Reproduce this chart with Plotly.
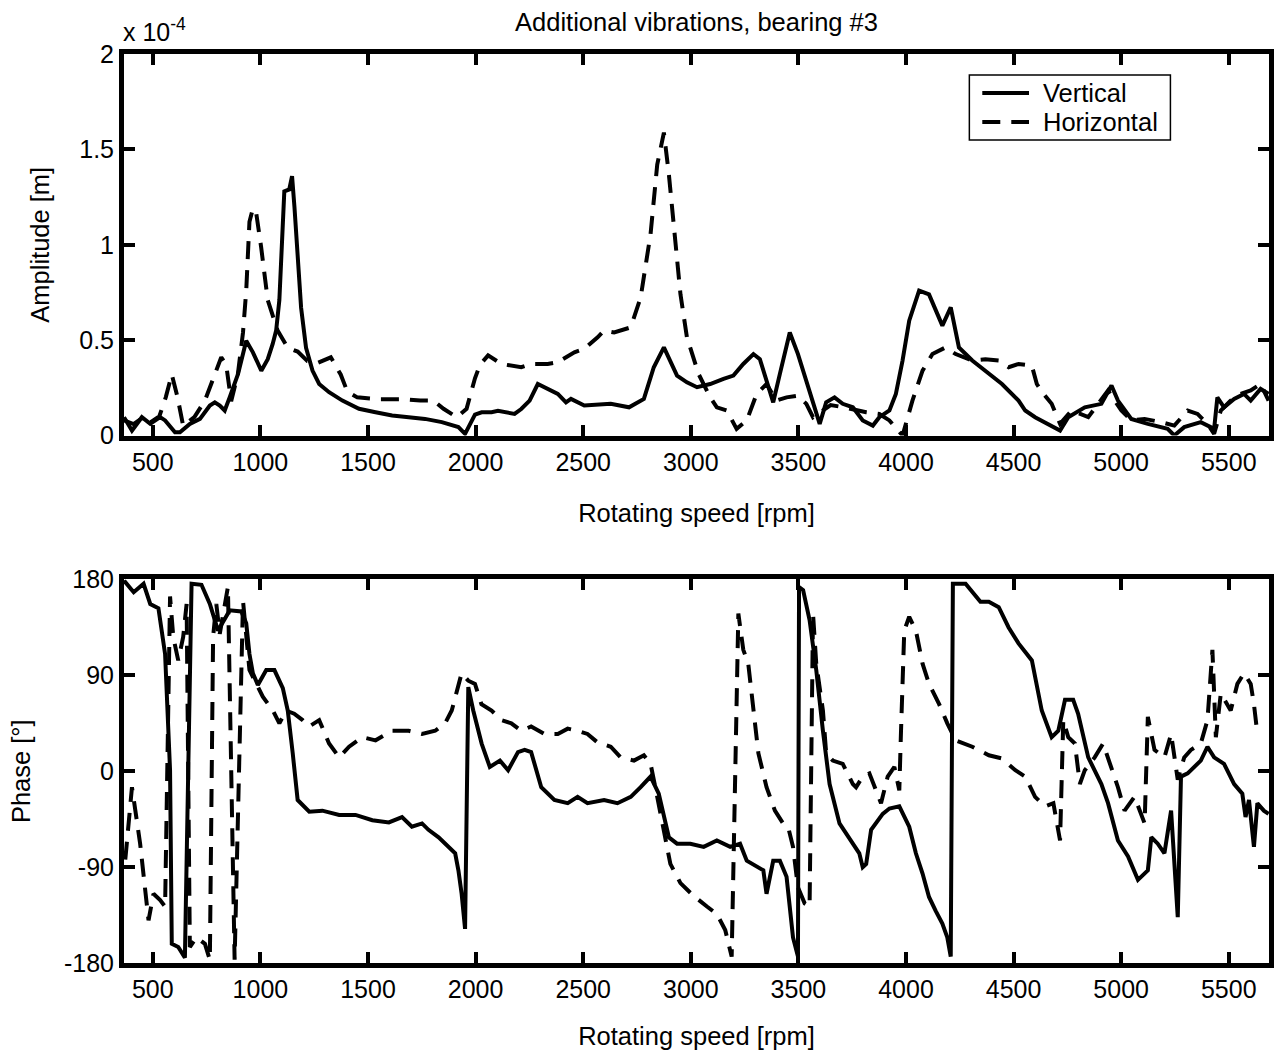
import plotly.graph_objects as go

# ---------------- data ----------------
# Top panel: amplitude, in units of 1e-4 m
rpm_amp_vertical = [366, 403, 449, 488, 534, 557, 603, 626, 672, 719, 765, 788, 811, 834, 857, 896,
                    934, 965, 1004, 1034, 1057, 1073, 1088, 1104, 1111, 1134, 1147, 1158, 1173, 1189,
                    1212, 1242, 1273, 1319, 1381, 1458, 1535, 1612, 1689, 1765, 1843, 1920, 1951, 1974,
                    1997, 2028, 2074, 2104, 2151, 2181, 2212, 2251, 2289, 2320, 2382, 2420, 2443, 2505,
                    2628, 2713, 2782, 2828, 2875, 2936, 2982, 3029, 3090, 3152, 3198, 3244, 3291, 3321,
                    3352, 3383, 3414, 3460, 3498, 3537, 3568, 3599, 3629, 3668, 3706, 3753, 3799, 3846,
                    3876, 3923, 3953, 3984, 4015, 4061, 4107, 4169, 4208, 4246, 4308, 4385, 4446, 4523,
                    4554, 4600, 4662, 4716, 4754, 4831, 4908, 4955, 4985, 5047, 5124, 5216, 5247, 5293,
                    5370, 5432, 5447, 5478, 5525, 5571, 5602, 5648, 5685]
amp_vertical = [0.096, 0.026, 0.096, 0.061, 0.096, 0.079, 0.017, 0.017, 0.061, 0.087, 0.157, 0.174,
                0.157, 0.131, 0.20, 0.323, 0.497, 0.436, 0.34, 0.40, 0.48, 0.55, 0.71, 1.09, 1.28,
                1.29, 1.36, 1.20, 0.93, 0.67, 0.46, 0.34, 0.27, 0.227, 0.183, 0.14, 0.122, 0.105,
                0.096, 0.087, 0.07, 0.044, 0.009, 0.06, 0.11, 0.122, 0.122, 0.13, 0.122, 0.113,
                0.139, 0.183, 0.27, 0.253, 0.218, 0.174, 0.192, 0.157, 0.166, 0.148, 0.192, 0.358,
                0.462, 0.314, 0.279, 0.253, 0.27, 0.297, 0.314, 0.375, 0.427, 0.40, 0.288, 0.174,
                0.323, 0.54, 0.427, 0.288, 0.183, 0.061, 0.174, 0.20, 0.166, 0.148, 0.079, 0.052,
                0.096, 0.131, 0.218, 0.393, 0.602, 0.76, 0.74, 0.576, 0.672, 0.462, 0.393, 0.323,
                0.27, 0.183, 0.131, 0.096, 0.061, 0.026, 0.096, 0.148, 0.166, 0.262, 0.183, 0.087,
                0.061, 0.035, 0.0, 0.044, 0.07, 0.035, 0.2, 0.148, 0.192, 0.218, 0.183, 0.244, 0.218]

rpm_amp_horizontal = [366, 410, 450, 490, 530, 560, 588, 615, 641, 693, 742, 818, 841, 864, 895, 919,
                      934, 949, 965, 980, 1003, 1034, 1080, 1127, 1173, 1219, 1265, 1327, 1373, 1404,
                      1450, 1558, 1666, 1743, 1804, 1851, 1912, 1958, 1997, 2020, 2058, 2120, 2212,
                      2258, 2335, 2382, 2459, 2505, 2567, 2597, 2644, 2721, 2767, 2813, 2844, 2875,
                      2898, 2929, 2952, 2982, 3036, 3090, 3121, 3167, 3213, 3260, 3306, 3352, 3398,
                      3445, 3498, 3537, 3568, 3599, 3650, 3700, 3768, 3815, 3876, 3923, 3984, 4030,
                      4077, 4123, 4184, 4231, 4308, 4369, 4431, 4477, 4523, 4585, 4608, 4639, 4677,
                      4716, 4770, 4847, 4939, 4970, 5001, 5047, 5109, 5186, 5247, 5309, 5355, 5401,
                      5432, 5463, 5509, 5555, 5602, 5648, 5685]
amp_horizontal = [0.08, 0.06, 0.09, 0.07, 0.10, 0.20, 0.32, 0.20, 0.05, 0.096, 0.183, 0.41, 0.37,
                  0.18, 0.32, 0.54, 0.76, 1.12, 1.19, 1.17, 0.99, 0.71, 0.55, 0.46, 0.44, 0.39, 0.38,
                  0.41, 0.32, 0.23, 0.20, 0.19, 0.19, 0.183, 0.183, 0.14, 0.096, 0.14, 0.30, 0.37,
                  0.42, 0.375, 0.358, 0.375, 0.375, 0.384, 0.436, 0.454, 0.515, 0.55, 0.54, 0.567,
                  0.724, 1.056, 1.42, 1.588, 1.37, 1.02, 0.74, 0.515, 0.323, 0.20, 0.148, 0.131,
                  0.035, 0.079, 0.218, 0.27, 0.183, 0.20, 0.209, 0.166, 0.096, 0.12, 0.16, 0.15,
                  0.131, 0.122, 0.113, 0.079, 0.0, 0.183, 0.34, 0.427, 0.462, 0.427, 0.393, 0.40,
                  0.393, 0.358, 0.375, 0.366, 0.27, 0.218, 0.166, 0.061, 0.131, 0.096, 0.236, 0.183,
                  0.131, 0.079, 0.087, 0.07, 0.052, 0.131, 0.113, 0.061, 0.009, 0.131, 0.183, 0.218,
                  0.236, 0.27, 0.183]

# Bottom panel: phase in degrees
rpm_ph_vertical = [366, 411, 457, 488, 526, 557, 580, 588, 618, 649, 680, 726, 765, 803, 857, 911,
                   934, 949, 965, 988, 1027, 1065, 1104, 1127, 1150, 1173, 1227, 1288, 1366, 1442,
                   1520, 1597, 1658, 1704, 1751, 1781, 1828, 1874, 1905, 1920, 1935, 1951, 1966,
                   1989, 2028, 2066, 2113, 2151, 2197, 2228, 2258, 2305, 2366, 2428, 2474, 2520,
                   2597, 2659, 2721, 2767, 2798, 2813, 2851, 2898, 2936, 2998, 3060, 3121, 3183,
                   3229, 3260, 3306, 3337, 3352, 3383, 3414, 3445, 3475, 3498, 3503, 3522, 3552,
                   3583, 3614, 3645, 3691, 3753, 3783, 3799, 3815, 3838, 3861, 3892, 3923, 3969,
                   4015, 4046, 4077, 4107, 4138, 4169, 4192, 4208, 4218, 4277, 4346, 4385, 4431,
                   4477, 4523, 4585, 4631, 4677, 4708, 4739, 4777, 4800, 4847, 4908, 4939, 4985,
                   5032, 5078, 5124, 5140, 5170, 5201, 5232, 5247, 5263, 5278, 5309, 5370, 5401,
                   5432, 5478, 5525, 5563, 5578, 5594, 5617, 5633, 5663, 5685]
phase_vertical = [179, 168, 176, 157, 153, 110, 1, -162, -165, -175, 176, 175, 157, 132, 151, 150,
                  139, 110, 92, 81, 95, 95, 78, 57, 17, -27, -38, -37, -41, -41, -46, -48, -43, -52,
                  -49, -55, -62, -71, -77, -93, -115, -148, 79, 57, 26, 4, 10, 1, 18, 20, 18, -15,
                  -27, -30, -24, -30, -27, -30, -24, -15, -8, -5, -21, -62, -68, -68, -71, -65, -71,
                  -68, -84, -90, -93, -115, -84, -84, -99, -156, -174, 173, 170, 142, 95, 38, -12,
                  -49, -68, -77, -90, -87, -55, -49, -40, -35, -33, -52, -77, -96, -118, -131, -143,
                  -156, -174, 176, 176, 159, 159, 154, 135, 120, 104, 57, 32, 38, 67, 67, 54, 13,
                  -12, -30, -65, -80, -102, -93, -62, -68, -77, -37, -93, -137, -5, -2, 10, 23, 13,
                  7, -12, -21, -43, -27, -71, -30, -37, -40]

rpm_ph_horizontal = [372, 403, 441, 480, 503, 534, 557, 580, 595, 618, 641, 657, 672, 703, 742, 765,
                     780, 795, 811, 849, 880, 919, 949, 980, 1011, 1058, 1088, 1119, 1157, 1196,
                     1227, 1273, 1319, 1366, 1412, 1473, 1535, 1612, 1689, 1751, 1812, 1858, 1889,
                     1935, 1966, 1997, 2027, 2074, 2120, 2166, 2212, 2258, 2320, 2382, 2428, 2474,
                     2520, 2567, 2628, 2674, 2736, 2782, 2813, 2844, 2875, 2905, 2952, 3013, 3075,
                     3121, 3160, 3190, 3221, 3244, 3267, 3290, 3314, 3352, 3391, 3429, 3452, 3475,
                     3498, 3529, 3552, 3568, 3583, 3614, 3629, 3660, 3706, 3753, 3768, 3799, 3830,
                     3884, 3915, 3946, 3969, 3976, 3992, 4015, 4046, 4077, 4107, 4154, 4192, 4231,
                     4308, 4385, 4446, 4508, 4554, 4600, 4646, 4685, 4716, 4731, 4754, 4785, 4808,
                     4831, 4877, 4916, 4947, 4985, 5016, 5062, 5109, 5124, 5155, 5201, 5232, 5263,
                     5293, 5324, 5370, 5401, 5424, 5440, 5463, 5509, 5540, 5571, 5602, 5617, 5633]
phase_horizontal = [-83, -15, -68, -140, -115, -121, -127, 164, 126, 104, 126, 157, -165, -156, -162,
                    -177, 126, 157, 129, 173, -177, 160, 95, 82, 70, 57, 45, 57, 54, 48, 42, 48, 26,
                    13, 23, 32, 29, 38, 38, 35, 38, 45, 57, 92, 85, 82, 63, 57, 48, 45, 38, 42, 35,
                    35, 40, 38, 35, 27, 23, 13, 10, 15, 7, -24, -55, -87, -105, -117, -127, -134,
                    -149, -174, 148, 114, 101, 63, 17, -15, -37, -49, -52, -71, -109, -124, -127, 148,
                    101, 57, 17, 10, 7, -12, -15, -5, -2, -30, -5, 4, -18, 32, 132, 145, 132, 101, 82,
                    63, 45, 29, 23, 15, 12, 1, -5, -24, -33, -30, -65, 48, 32, 26, -12, 1, 13, 26, 7,
                    -15, -37, -24, -49, 51, 20, 13, 35, -8, 13, 20, 26, 48, 114, 32, 73, 57, 82, 92,
                    82, 63, 35]

x_ticks = [500, 1000, 1500, 2000, 2500, 3000, 3500, 4000, 4500, 5000, 5500]
amp_ticks = [0, 0.5, 1, 1.5, 2]
amp_ticktext = ["0", "0.5", "1", "1.5", "2"]
phase_ticks = [-180, -90, 0, 90, 180]
phase_ticktext = ["-180", "-90", "0", "90", "180"]
legend_labels = ["Vertical", "Horizontal"]

# ---------------- figure ----------------
FONT = "Liberation Sans, Arial, Helvetica, sans-serif"
TICK_SIZE = 25
TEXT_SIZE = 25.5
solid = dict(color="black", width=4)
dashed = dict(color="black", width=4, dash="18px,11px")

fig = go.Figure()
fig.add_trace(go.Scatter(x=rpm_amp_vertical, y=amp_vertical, mode="lines", name=legend_labels[0],
                         line=solid, xaxis="x", yaxis="y", showlegend=False))
fig.add_trace(go.Scatter(x=rpm_amp_horizontal, y=amp_horizontal, mode="lines", name=legend_labels[1],
                         line=dashed, xaxis="x", yaxis="y", showlegend=False))
fig.add_trace(go.Scatter(x=rpm_ph_vertical, y=phase_vertical, mode="lines", name=legend_labels[0],
                         line=solid, xaxis="x2", yaxis="y2", showlegend=False))
fig.add_trace(go.Scatter(x=rpm_ph_horizontal, y=phase_horizontal, mode="lines", name=legend_labels[1],
                         line=dashed, xaxis="x2", yaxis="y2", showlegend=False))

axis_style = dict(showline=True, linecolor="black", linewidth=5, mirror="ticks",
                  ticks="inside", ticklen=11, tickwidth=4, tickcolor="black",
                  showgrid=False, zeroline=False,
                  tickfont=dict(family=FONT, size=TICK_SIZE, color="black"))
title_font = dict(family=FONT, size=TEXT_SIZE, color="black")

# legend drawn in the top panel (paper coordinates of the plot area)
LX0, LX1, LY0, LY1 = 0.7383, 0.9139, 0.9054, 0.9769
SX0, SX1, TX = 0.7496, 0.7904, 0.8010
ROW_Y = [0.9571, 0.9252]

shapes = [
    dict(type="rect", xref="paper", yref="paper", x0=LX0, x1=LX1, y0=LY0, y1=LY1,
         line=dict(color="black", width=1.5), fillcolor="white", layer="above"),
    dict(type="line", xref="paper", yref="paper", x0=SX0, x1=SX1, y0=ROW_Y[0], y1=ROW_Y[0],
         line=solid, layer="above"),
    dict(type="line", xref="paper", yref="paper", x0=SX0, x1=SX1, y0=ROW_Y[1], y1=ROW_Y[1],
         line=dashed, layer="above"),
]
annotations = [
    dict(text=legend_labels[i], xref="paper", yref="paper", x=TX, y=ROW_Y[i], xanchor="left",
         yanchor="middle", showarrow=False, font=title_font)
    for i in range(2)
]
annotations.append(dict(text="x 10<sup>-4</sup>", xref="paper", yref="paper", x=0, y=1.026,
                        xanchor="left", yanchor="middle", xshift=-3, showarrow=False,
                        font=dict(family=FONT, size=25, color="black")))

fig.update_layout(
    width=1279, height=1054,
    margin=dict(l=124, r=5, t=54, b=91),
    paper_bgcolor="white", plot_bgcolor="white",
    font=dict(family=FONT, size=25, color="black"),
    xaxis=dict(domain=[0, 1], anchor="y", range=[366, 5687], tickvals=x_ticks,
               title=dict(text="Rotating speed [rpm]", standoff=31, font=title_font), **axis_style),
    yaxis=dict(domain=[0.5803, 1], anchor="x", range=[0, 2], tickvals=amp_ticks,
               ticktext=amp_ticktext,
               title=dict(text="Amplitude [m]", standoff=24, font=title_font), **axis_style),
    xaxis2=dict(domain=[0, 1], anchor="y2", range=[366, 5687], tickvals=x_ticks,
                title=dict(text="Rotating speed [rpm]", standoff=27, font=title_font), **axis_style),
    yaxis2=dict(domain=[0, 0.4219], anchor="x2", range=[-180, 180], tickvals=phase_ticks,
                ticktext=phase_ticktext,
                title=dict(text="Phase [°]", standoff=28, font=title_font), **axis_style),
    showlegend=False,
    title=dict(text="Additional vibrations, bearing #3", x=0.5, xref="paper", xanchor="center",
               y=1 - 22 / 1054, yref="container", yanchor="middle", font=title_font),
    shapes=shapes,
    annotations=annotations,
)

fig.write_html("out.html")
